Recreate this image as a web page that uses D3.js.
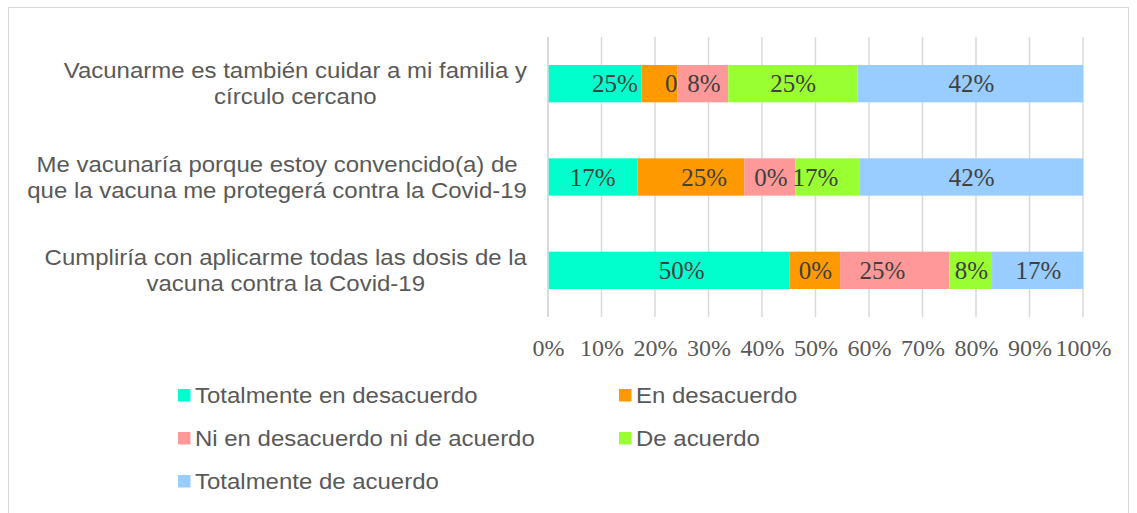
<!DOCTYPE html>
<html><head><meta charset="utf-8">
<script src="https://cdn.jsdelivr.net/npm/d3@7"></script>
<style>html,body{margin:0;padding:0;background:#fff;}</style>
</head><body><svg id="c" width="1137" height="513"></svg>
<script>
const categories = [
  ["Vacunarme es también cuidar a mi familia y", "círculo cercano"],
  ["Me vacunaría porque estoy convencido(a) de", "que la vacuna me protegerá contra la Covid-19"],
  ["Cumpliría con aplicarme todas las dosis de la", "vacuna contra la Covid-19"]
];
const seriesNames = ["Totalmente en desacuerdo","En desacuerdo","Ni en desacuerdo ni de acuerdo","De acuerdo","Totalmente de acuerdo"];
const colors = ["#00FFCC","#FF9900","#FF9999","#99FF33","#99CCFF"];
// bar widths as drawn in the picture (percent)
const barValues = [
  [17.5, 6.7, 9.5, 24.2, 42.1],
  [16.7, 20.0, 9.5, 12.1, 41.7],
  [45.1, 9.5, 20.4, 8.0, 17.0]
];
// values behind the data labels (percent)
const labelValues = [
  [25, 0, 8.33, 25, 41.67],
  [16.67, 25, 0, 16.67, 41.67],
  [50, 0, 25, 8.33, 16.67]
];
const tickValues = [0,10,20,30,40,50,60,70,80,90,100];

const SANS = "Liberation Sans, Arial, sans-serif";
const SERIF = "Liberation Serif, serif";
const STRETCH = 1.09;

const svg = d3.select("#c");
svg.append("rect").attr("x",8.5).attr("y",7.5).attr("width",1120).attr("height",520)
  .attr("fill","#fff").attr("stroke","#D9D9D9").attr("stroke-width",1);

const x = d3.scaleLinear().domain([0,100]).range([548,1083]);
const y = d3.scaleBand().domain(d3.range(categories.length)).range([37,317]).paddingInner(0.6).paddingOuter(0.3);

// gridlines
svg.append("g").selectAll("line").data(tickValues).join("line")
  .attr("x1",d=>x(d)).attr("x2",d=>x(d)).attr("y1",37).attr("y2",317)
  .attr("stroke","#D9D9D9").attr("stroke-width",1.5);

// x axis labels
const xAxis = d3.axisBottom(x).tickValues(tickValues).tickFormat(d=>d+"%").tickSize(0).tickPadding(0);
const gx = svg.append("g").attr("transform","translate(0,339)").call(xAxis);
gx.select(".domain").remove();
gx.selectAll("text").attr("font-family",SERIF).attr("font-size",24).attr("fill","#595959");

// segments
const segs = [];
barValues.forEach((row,i)=>{
  let cum = 0, lcum = 0;
  row.forEach((v,j)=>{
    const lv = labelValues[i][j];
    segs.push({i,j,x0:cum,x1:cum+v,lv,lc:lcum+lv/2});
    cum+=v; lcum+=lv;
  });
});
// draw series by series: bars then their labels
seriesNames.forEach((name,j)=>{
  const s = segs.filter(d=>d.j===j);
  const g = svg.append("g");
  g.selectAll("rect").data(s).join("rect")
    .attr("x",d=>x(d.x0)).attr("width",d=>x(d.x1)-x(d.x0))
    .attr("y",d=>y(d.i)).attr("height",y.bandwidth())
    .attr("fill",colors[j]);
  g.selectAll("text").data(s).join("text")
    .attr("x",d=>x(d.lc)).attr("y",d=>y(d.i)+y.bandwidth()/2).attr("dy","0.35em")
    .attr("text-anchor","middle").attr("font-family",SERIF)
    .attr("font-size",25).attr("fill","#404040")
    .text(d=>Math.round(d.lv)+"%");
});

// left axis line
svg.append("line").attr("x1",x(0)).attr("x2",x(0)).attr("y1",37).attr("y2",317)
  .attr("stroke","#D9D9D9").attr("stroke-width",1.5);

// category labels
categories.forEach((lines,i)=>{
  const g = svg.append("g");
  const t = g.selectAll("text").data(lines).join("text")
    .attr("font-family",SANS).attr("font-size",22).attr("fill","#595959")
    .attr("text-anchor","middle").attr("dy","0.35em")
    .text(d=>d);
  let maxW = 0;
  t.each(function(){maxW=Math.max(maxW,this.getComputedTextLength()*STRETCH);});
  const cx = 527 - maxW/2;
  t.attr("transform",(d,k)=>`translate(${cx},${y(i)+y.bandwidth()/2 + (k-0.5)*26}) scale(${STRETCH},1)`);
});

// legend
const legendPos = [[178,395],[619,395],[178,438],[619,438],[178,481]];
const lg = svg.append("g").selectAll("g").data(seriesNames).join("g")
  .attr("transform",(d,i)=>`translate(${legendPos[i][0]},${legendPos[i][1]})`);
lg.append("rect").attr("x",0).attr("y",-6).attr("width",12.5).attr("height",12.5).attr("fill",(d,i)=>colors[i]);
lg.append("text").attr("transform",`translate(17,0) scale(${STRETCH},1)`).attr("dy","0.35em").attr("font-family",SANS)
  .attr("font-size",22).attr("fill","#595959").text(d=>d);
</script></body></html>
